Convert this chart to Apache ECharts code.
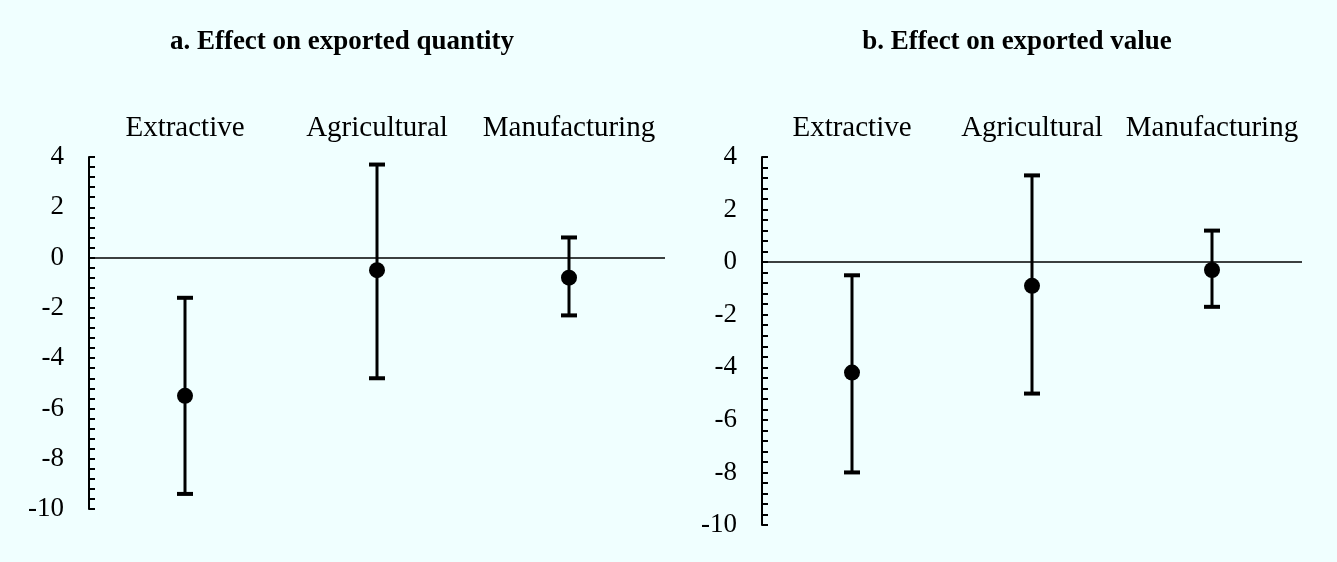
<!DOCTYPE html>
<html>
<head>
<meta charset="utf-8">
<script src="https://cdn.jsdelivr.net/npm/echarts@6/dist/echarts.min.js"></script>
<style>
html,body{margin:0;padding:0;background:#F0FFFF;}
#c{width:1337px;height:562px;}
</style>
</head>
<body>
<div id="c"></div>
<script>
const categories = ['Extractive', 'Agricultural', 'Manufacturing'];
const qtyEst  = [-5.5, -0.5, -0.8];
const qtyLow  = [-9.4, -4.8, -2.3];
const qtyHigh = [-1.6, 3.7, 0.8];
const valEst  = [-4.2, -0.9, -0.3];
const valLow  = [-8.0, -5.0, -1.7];
const valHigh = [-0.5, 3.3, 1.2];
const yMin = -10, yMax = 4, yInterval = 2;
const titles = ['a. Effect on exported quantity', 'b. Effect on exported value'];

const FONT = '"Liberation Serif", "Times New Roman", serif';

function errData(low, high) {
  return categories.map((c, i) => [i, low[i], high[i]]);
}
function renderErr(params, api) {
  const x = api.value(0);
  const lo = api.coord([x, api.value(1)]);
  const hi = api.coord([x, api.value(2)]);
  const capW = 16, capH = 4;
  const style = {fill: '#000'};
  return {
    type: 'group',
    children: [
      {type: 'line', shape: {x1: lo[0], y1: lo[1], x2: hi[0], y2: hi[1]}, style: {stroke: '#000', lineWidth: 3}},
      {type: 'rect', shape: {x: hi[0] - capW / 2, y: hi[1] - capH / 2, width: capW, height: capH}, style: style},
      {type: 'rect', shape: {x: lo[0] - capW / 2, y: lo[1] - capH / 2, width: capW, height: capH}, style: style}
    ]
  };
}
function yAxis(idx) {
  return {
    type: 'value', gridIndex: idx, min: yMin, max: yMax, interval: yInterval,
    axisLine: {show: true, lineStyle: {color: '#000', width: 2}},
    axisTick: {show: true, inside: true, length: 6, lineStyle: {color: '#000', width: 2}},
    minorTick: {show: true, splitNumber: 5, length: 6, lineStyle: {color: '#000', width: 2}},
    splitLine: {show: false},
    axisLabel: {color: '#000', fontFamily: FONT, fontSize: 27, margin: 25, padding: [6, 0, 0, 0]}
  };
}
function xAxis(idx) {
  return {
    type: 'category', gridIndex: idx, data: categories, position: 'top',
    axisLine: {show: false}, axisTick: {show: false},
    axisLabel: {color: '#000', fontFamily: FONT, fontSize: 29, margin: 14, interval: 0}
  };
}
function zeroLine() {
  return {
    silent: true, symbol: 'none', label: {show: false},
    lineStyle: {color: '#000', width: 1.5, type: 'solid'},
    data: [{yAxis: 0}]
  };
}

const chart = echarts.init(document.getElementById('c'));
chart.setOption({
  backgroundColor: '#F0FFFF',
  animation: false,
  title: [
    {text: titles[0], left: 337, top: 24, textAlign: 'center',
     textStyle: {fontFamily: FONT, fontSize: 27, fontWeight: 'bold', color: '#000'}},
    {text: titles[1], left: 1012, top: 24, textAlign: 'center',
     textStyle: {fontFamily: FONT, fontSize: 27, fontWeight: 'bold', color: '#000'}}
  ],
  grid: [
    {left: 89, right: 672, top: 157, bottom: 53},
    {left: 762, right: 35, top: 157, bottom: 37}
  ],
  xAxis: [xAxis(0), xAxis(1)],
  yAxis: [yAxis(0), yAxis(1)],
  series: [
    {type: 'custom', xAxisIndex: 0, yAxisIndex: 0, renderItem: renderErr, data: errData(qtyLow, qtyHigh), markLine: zeroLine(), z: 2},
    {type: 'scatter', xAxisIndex: 0, yAxisIndex: 0, data: qtyEst, symbol: 'circle', symbolSize: 16, itemStyle: {color: '#000', opacity: 1}, z: 3},
    {type: 'custom', xAxisIndex: 1, yAxisIndex: 1, renderItem: renderErr, data: errData(valLow, valHigh), markLine: zeroLine(), z: 2},
    {type: 'scatter', xAxisIndex: 1, yAxisIndex: 1, data: valEst, symbol: 'circle', symbolSize: 16, itemStyle: {color: '#000', opacity: 1}, z: 3}
  ]
});
</script>
</body>
</html>
